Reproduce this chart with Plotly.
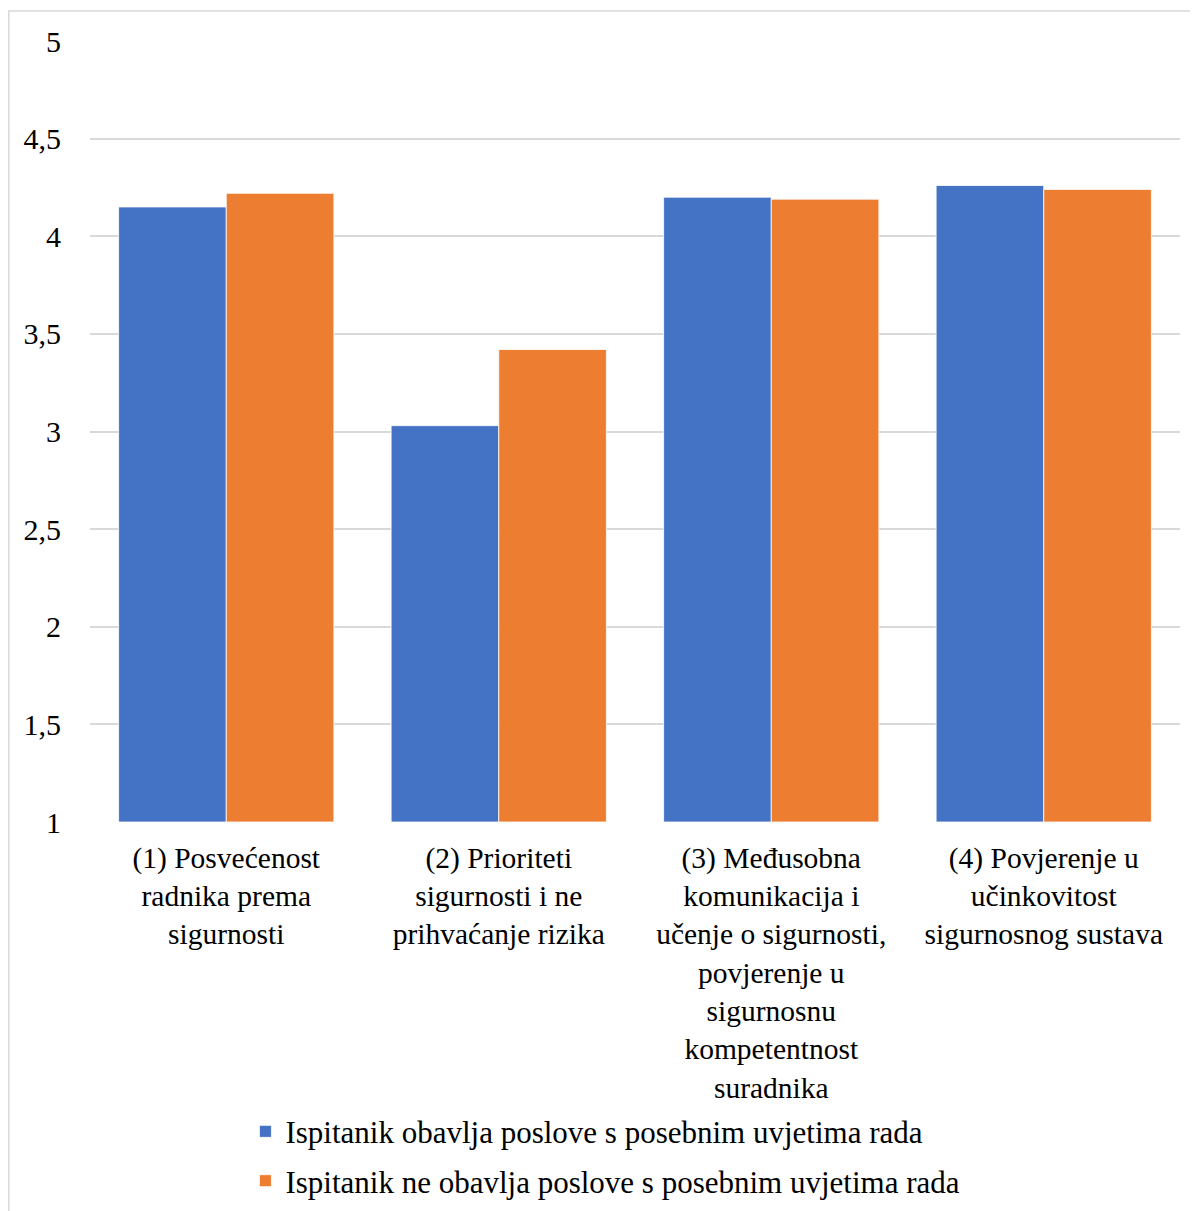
import plotly.graph_objects as go

categories = [
    "(1) Posvećenost<br>radnika prema<br>sigurnosti",
    "(2) Prioriteti<br>sigurnosti i ne<br>prihvaćanje rizika",
    "(3) Međusobna<br>komunikacija i<br>učenje o sigurnosti,<br>povjerenje u<br>sigurnosnu<br>kompetentnost<br>suradnika",
    "(4) Povjerenje u<br>učinkovitost<br>sigurnosnog sustava",
]
series_names = [
    "Ispitanik obavlja poslove s posebnim uvjetima rada",
    "Ispitanik ne obavlja poslove s posebnim uvjetima rada",
]
values_a = [4.15, 3.03, 4.20, 4.26]
values_b = [4.22, 3.42, 4.19, 4.24]
colors = ["#4472C4", "#ED7D31"]
axis_base = 1

FONT = "Liberation Serif"

fig = go.Figure()
for i, (name, vals) in enumerate(zip(series_names, [values_a, values_b])):
    fig.add_trace(go.Bar(
        x=categories, y=[v - axis_base for v in vals], base=axis_base, name=name,
        marker=dict(color=colors[i], line=dict(color="white", width=0.8)),
        legendgroup=f"g{i}",
    ))

fig.update_layout(
    width=1190, height=1203,
    margin=dict(l=82, r=18, t=33, b=389, autoexpand=False),
    paper_bgcolor="white", plot_bgcolor="white",
    barmode="group", bargap=0.21, bargroupgap=0,
    separators=",.",
    font=dict(family=FONT, size=30, color="#000000"),
    showlegend=True,
    legend=dict(
        orientation="v", x=0.1426, xanchor="left", y=-0.362, yanchor="top",
        font=dict(family=FONT, size=31, color="#000000"),
        tracegroupgap=6, itemwidth=30,
    ),
    xaxis=dict(
        showgrid=False, showline=False, ticks="", tickangle=0,
        ticklabelstandoff=15, automargin=False,
        tickfont=dict(family=FONT, size=29.5),
    ),
    yaxis=dict(
        range=[1, 5], dtick=0.5, tick0=1,
        showgrid=True, gridcolor="#d9d9d9", gridwidth=1.5,
        zeroline=False, showline=False, ticks="",
        ticklabelstandoff=28, automargin=False,
        tickfont=dict(family=FONT, size=30),
    ),
    shapes=[dict(
        type="rect", xref="paper", yref="paper",
        x0=-0.0745, x1=1.05, y0=-0.6, y1=1.0384,
        line=dict(color="#d9d9d9", width=1.5), fillcolor="rgba(0,0,0,0)",
        layer="below",
    )],
)

fig.write_html("out.html")
